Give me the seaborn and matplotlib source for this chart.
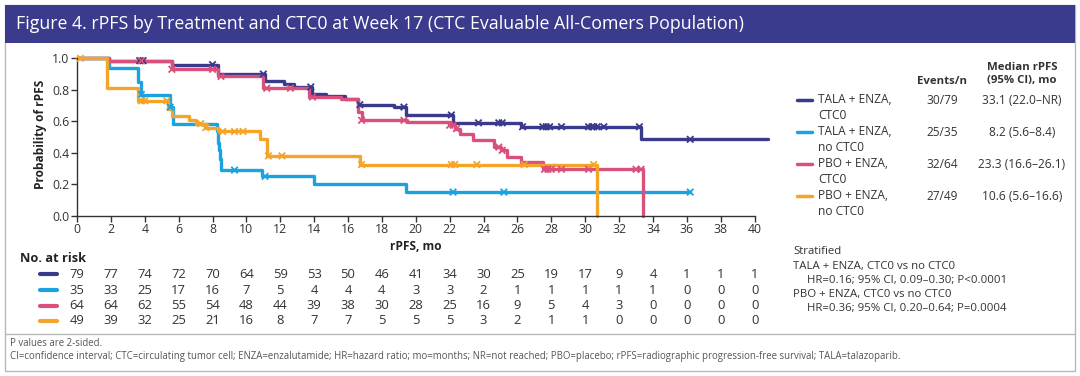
import numpy as np
import pandas as pd
import matplotlib
matplotlib.use('Agg')
import matplotlib.pyplot as plt
import matplotlib.transforms as mtransforms
from matplotlib.patches import Rectangle
from matplotlib.lines import Line2D
import seaborn as sns

sns.set_style('white')
plt.rcParams['font.family'] = ['Open Sans', 'Noto Sans', 'DejaVu Sans']

# 数据：Kaplan-Meier 阶梯点 (月, 生存概率)
groups = ['TALA + ENZA,\nCTC0', 'TALA + ENZA,\nno CTC0', 'PBO + ENZA,\nCTC0', 'PBO + ENZA,\nno CTC0']
colors = ['#3a3a8c', '#1aa3e0', '#d9507a', '#f5a42a']

navy_t = [0, 1.9, 5.6, 8.3, 11.1, 12.2, 12.8, 13.9, 14.7, 15.8, 16.6, 18.7, 19.4, 22.2, 26.2, 33.3, 40.8]
navy_s = [1.0, 0.985, 0.96, 0.90, 0.855, 0.835, 0.818, 0.775, 0.758, 0.743, 0.705, 0.69, 0.64, 0.59, 0.565, 0.485, 0.485]
navy_c = [3.7, 3.9, 8.0, 11.0, 13.8, 16.7, 19.3, 22.1, 23.7, 24.9, 25.1, 26.3, 27.5, 27.7, 27.9,
          28.6, 30.2, 30.4, 30.5, 30.7, 31.1, 33.2, 36.2]

blue_t = [0, 1.9, 3.6, 3.75, 5.5, 5.65, 8.25, 8.3, 8.35, 8.4, 8.45, 8.5, 10.9, 14.0, 19.4, 36.2]
blue_s = [1.0, 0.94, 0.85, 0.77, 0.69, 0.58, 0.54, 0.50, 0.46, 0.42, 0.36, 0.29, 0.25, 0.20, 0.15, 0.15]
blue_c = [3.8, 5.5, 9.3, 11.1, 22.2, 25.2, 36.2]

pink_t = [0, 1.9, 5.6, 8.3, 11.0, 13.7, 15.6, 16.6, 16.8, 19.5, 22.0, 22.3, 22.6, 23.4, 24.6,
          25.0, 25.4, 26.2, 27.5, 33.4]
pink_s = [1.0, 0.984, 0.93, 0.885, 0.81, 0.754, 0.74, 0.66, 0.606, 0.595, 0.575, 0.553, 0.521,
          0.479, 0.436, 0.415, 0.373, 0.341, 0.295, 0.0]
pink_c = [3.8, 5.6, 8.0, 8.5, 11.2, 12.6, 13.9, 16.8, 19.3, 22.0, 22.2, 22.4, 24.9, 25.1, 27.6,
          27.8, 28.0, 28.6, 30.2, 33.0, 33.3]

orange_t = [0, 1.8, 3.6, 5.4, 5.6, 6.6, 7.0, 7.6, 8.3, 10.8, 11.2, 16.7, 30.7]
orange_s = [1.0, 0.81, 0.73, 0.68, 0.635, 0.605, 0.585, 0.56, 0.535, 0.49, 0.38, 0.325, 0.0]
orange_c = [0.2, 3.8, 4.0, 5.3, 7.3, 7.6, 8.6, 9.3, 9.8, 11.3, 12.1, 16.8, 22.1, 22.3, 23.6, 26.4, 30.5]

risk_times = list(range(0, 41, 2))
risk_navy = [79, 77, 74, 72, 70, 64, 59, 53, 50, 46, 41, 34, 30, 25, 19, 17, 9, 4, 1, 1, 1]
risk_blue = [35, 33, 25, 17, 16, 7, 5, 4, 4, 4, 3, 3, 2, 1, 1, 1, 1, 1, 0, 0, 0]
risk_pink = [64, 64, 62, 55, 54, 48, 44, 39, 38, 30, 28, 25, 16, 9, 5, 4, 3, 0, 0, 0, 0]
risk_orange = [49, 39, 32, 25, 21, 16, 8, 7, 7, 5, 5, 5, 3, 2, 1, 1, 0, 0, 0, 0, 0]

events_n = ['30/79', '25/35', '32/64', '27/49']
medians = ['33.1 (22.0–NR)', '8.2 (5.6–8.4)', '23.3 (16.6–26.1)', '10.6 (5.6–16.6)']

curves = [(navy_t, navy_s, navy_c), (blue_t, blue_s, blue_c),
          (pink_t, pink_s, pink_c), (orange_t, orange_s, orange_c)]
risks = [risk_navy, risk_blue, risk_pink, risk_orange]

line_df = pd.concat([pd.DataFrame({'t': t, 's': s, 'grp': g}) for (t, s, _), g in zip(curves, groups)])
cens_rows = []
for (t, s, c), g in zip(curves, groups):
    idx = np.searchsorted(t, c, side='right') - 1
    cens_rows.append(pd.DataFrame({'t': c, 's': np.array(s)[idx], 'grp': g}))
cens_df = pd.concat(cens_rows)

W, H = 1080, 376
fx = lambda px: px / W
fy = lambda py: 1 - py / H

fig = plt.figure(figsize=(10.8, 3.76), dpi=100)

# 外框与标题栏
fig.patches.append(Rectangle((fx(5), fy(371)), fx(1070), 366 / H, transform=fig.transFigure,
                             fill=False, edgecolor='#b8b8b8', lw=1))
fig.patches.append(Rectangle((fx(5), fy(43)), fx(1070), 38 / H, transform=fig.transFigure,
                             facecolor='#3b3b8e', edgecolor='none'))
fig.text(fx(16), fy(24), 'Figure 4. rPFS by Treatment and CTC0 at Week 17 (CTC Evaluable All-Comers Population)',
         color='white', fontsize=12.8, va='center', ha='left')
fig.add_artist(Line2D([fx(5), fx(1075)], [fy(334), fy(334)], color='#b8b8b8', lw=1))

# 主图
x0, x_end = 77, 77 + 40.9 * 16.94
y_bot, y_top = 215.7, 215.7 - 1.03 * 157.4
ax = fig.add_axes([fx(x0), fy(y_bot), fx(x_end - x0), (y_bot - y_top) / H])
sns.lineplot(data=line_df, x='t', y='s', hue='grp', hue_order=groups, palette=colors,
             drawstyle='steps-post', estimator=None, sort=False, lw=2.4, legend=False, ax=ax)
sns.scatterplot(data=cens_df, x='t', y='s', hue='grp', hue_order=groups, palette=colors,
                marker='x', s=22, linewidth=1.3, legend=False, ax=ax, zorder=3)
for ln in ax.lines:
    ln.set_clip_on(False)
ax.set_xlim(0, 40.9)
ax.set_ylim(0, 1.03)
ax.set_xticks(range(0, 41, 2))
ax.set_yticks([0, 0.2, 0.4, 0.6, 0.8, 1.0])
ax.set_yticklabels(['0.0', '0.2', '0.4', '0.6', '0.8', '1.0'])
ax.spines['top'].set_visible(False)
ax.spines['right'].set_visible(False)
ax.spines['bottom'].set_bounds(0, 40)
ax.spines['left'].set_bounds(0, 1)
for sp in ['left', 'bottom']:
    ax.spines[sp].set_color('#333333')
    ax.spines[sp].set_linewidth(1)
ax.tick_params(axis='both', length=4, width=1, color='#333333', labelsize=8.8, labelcolor='#333333', pad=1.5)
ax.tick_params(left=True, bottom=True)
ax.set_xlabel('')
ax.set_ylabel('Probability of rPFS', fontsize=8.6, fontweight='bold', color='#222222', labelpad=4)
fig.text(fx(416), fy(246), 'rPFS, mo', fontsize=8.6, fontweight='bold', color='#222222', ha='center', va='center')

# 风险人数表
blend = mtransforms.blended_transform_factory(ax.transData, fig.transFigure)
fig.text(fx(20), fy(259), 'No. at risk', fontsize=9.2, fontweight='bold', color='#222222', va='center')
row_y = [274, 290, 305.5, 321]
for r, col, yy in zip(risks, colors, row_y):
    fig.add_artist(Line2D([fx(40), fx(57)], [fy(yy), fy(yy)], color=col, lw=3))
    for t, n in zip(risk_times, r):
        fig.text(t, fy(yy), str(n), transform=blend, fontsize=9.4, color='#333333', ha='center', va='center')

# 右侧图例与统计
fig.text(fx(1022), fy(74), 'Median rPFS\n(95% CI), mo', fontsize=8.2, fontweight='bold', color='#333333',
         ha='center', va='center', linespacing=1.25)
fig.text(fx(942), fy(81), 'Events/n', fontsize=8.2, fontweight='bold', color='#333333', ha='center', va='center')
leg_y = [100, 132, 164, 196]
for g, col, ev, med, yy in zip(groups, colors, events_n, medians, leg_y):
    fig.add_artist(Line2D([fx(797), fx(812)], [fy(yy), fy(yy)], color=col, lw=2.5))
    fig.text(fx(818), fy(yy - 7), g, fontsize=8.6, color='#333333', ha='left', va='top', linespacing=1.3)
    fig.text(fx(942), fy(yy), ev, fontsize=8.6, color='#333333', ha='center', va='center')
    fig.text(fx(1022), fy(yy), med, fontsize=8.6, color='#333333', ha='center', va='center')

strat = [(793, 252, 'Stratified'),
         (793, 266, 'TALA + ENZA, CTC0 vs no CTC0'),
         (807, 280, 'HR=0.16; 95% CI, 0.09–0.30; P<0.0001'),
         (793, 294, 'PBO + ENZA, CTC0 vs no CTC0'),
         (807, 308, 'HR=0.36; 95% CI, 0.20–0.64; P=0.0004')]
for px, py, s in strat:
    fig.text(fx(px), fy(py), s, fontsize=8.2, color='#333333', ha='left', va='center')

# 脚注
fig.text(fx(10), fy(344), 'P values are 2-sided.', fontsize=6.9, color='#555555', va='center')
fig.text(fx(10), fy(356), 'CI=confidence interval; CTC=circulating tumor cell; ENZA=enzalutamide; HR=hazard ratio; '
         'mo=months; NR=not reached; PBO=placebo; rPFS=radiographic progression-free survival; TALA=talazoparib.',
         fontsize=6.9, color='#555555', va='center')

plt.savefig('out.png', dpi=100)
